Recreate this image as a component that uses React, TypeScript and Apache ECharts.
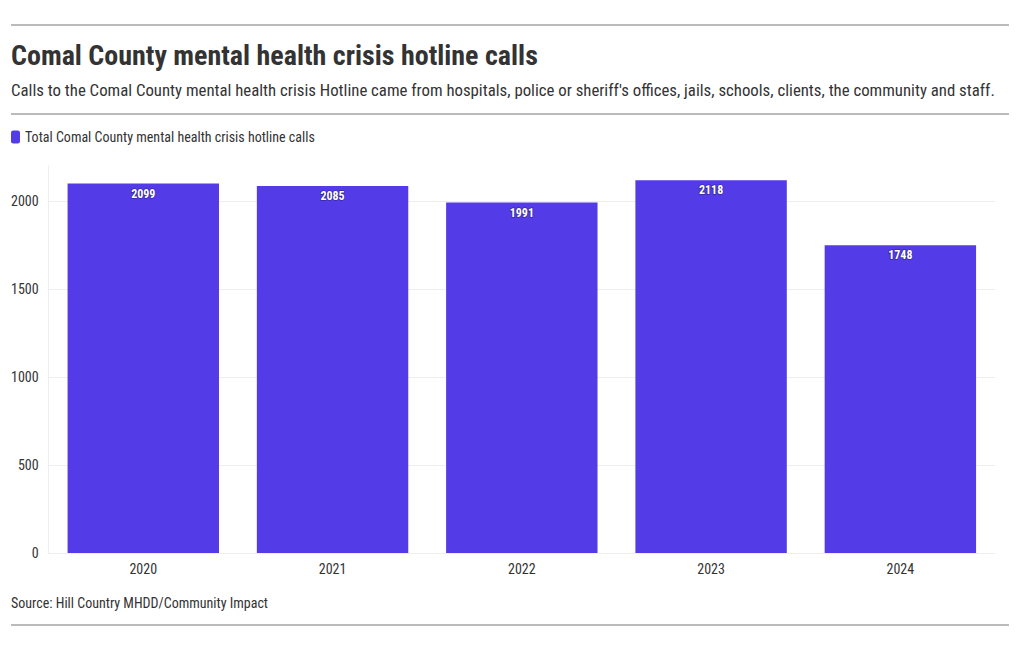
import React, { useEffect, useRef } from "react";
import * as echarts from "echarts";

const years = ["2020", "2021", "2022", "2023", "2024"];
const calls = [2099, 2085, 1991, 2118, 1748];
const seriesName = "Total Comal County mental health crisis hotline calls";
const titleText = "Comal County mental health crisis hotline calls";
const subtitleText =
  "Calls to the Comal County mental health crisis Hotline came from hospitals, police or sheriff's offices, jails, schools, clients, the community and staff.";
const sourceText = "Source: Hill Country MHDD/Community Impact";

const FONT = "'Roboto Condensed', 'Liberation Sans Narrow', 'DejaVu Sans Condensed', Roboto, sans-serif";

export default function App() {
  const ref = useRef<HTMLDivElement>(null);
  useEffect(() => {
    if (!ref.current) return;
    const chart = echarts.init(ref.current, undefined, { renderer: "svg" });
    chart.setOption({
      animation: false,
      textStyle: { fontFamily: FONT },
      title: [
        {
          text: titleText,
          left: 3,
          top: 33,
          padding: 0,
          textStyle: { fontFamily: FONT, fontSize: 28, fontWeight: "bold", color: "#333" },
        },
        {
          text: subtitleText,
          left: 3,
          top: 73,
          padding: 0,
          textStyle: { fontFamily: FONT, fontSize: 16.8, fontWeight: "normal", color: "#333" },
        },
        {
          text: sourceText,
          left: 3,
          top: 588,
          padding: 0,
          textStyle: { fontFamily: FONT, fontSize: 14, fontWeight: "normal", color: "#333" },
        },
      ],
      legend: {
        left: 3,
        top: 122,
        padding: 0,
        itemWidth: 9,
        itemHeight: 13,
        itemGap: 4,
        icon: "roundRect",
        textStyle: { fontFamily: FONT, fontSize: 14, color: "#333" },
        data: [seriesName],
      },
      graphic: [
        { type: "line", shape: { x1: 3, y1: 17, x2: 1001, y2: 17 }, style: { stroke: "#777", lineWidth: 1 } },
        { type: "line", shape: { x1: 3, y1: 106, x2: 1001, y2: 106 }, style: { stroke: "#777", lineWidth: 1 } },
        { type: "line", shape: { x1: 3, y1: 617, x2: 1001, y2: 617 }, style: { stroke: "#777", lineWidth: 1 } },
      ],
      grid: { left: 40, right: 17, top: 157.8, bottom: 89, containLabel: false },
      xAxis: {
        type: "category",
        data: years,
        axisLine: { show: true, lineStyle: { color: "#eee" } },
        axisTick: { show: false },
        axisLabel: { color: "#333", fontSize: 14, fontFamily: FONT, margin: 9 },
      },
      yAxis: {
        type: "value",
        min: 0,
        max: 2200,
        interval: 500,
        axisLine: { show: true, lineStyle: { color: "#eee" } },
        axisTick: { show: false },
        axisLabel: {
          color: "#333",
          fontSize: 14,
          fontFamily: FONT,
          margin: 10,
          showMaxLabel: false,
          formatter: (v: number) => String(v),
        },
        splitLine: {
          show: true,
          lineStyle: { color: ["#eee", "#eee", "#eee", "#eee", "#eee", "transparent"], width: 1 },
        },
      },
      series: [
        {
          name: seriesName,
          type: "bar",
          data: calls,
          barWidth: "80%",
          itemStyle: { color: "#533be8" },
          label: {
            show: true,
            position: "insideTop",
            distance: 4,
            color: "#fff",
            fontSize: 12,
            fontWeight: "bold",
            fontFamily: FONT,
            textBorderColor: "rgba(0,0,0,0.35)",
            textBorderWidth: 1.5,
          },
        },
      ],
    });
    return () => chart.dispose();
  }, []);
  return <div ref={ref} style={{ width: 1004, height: 634 }} />;
}
